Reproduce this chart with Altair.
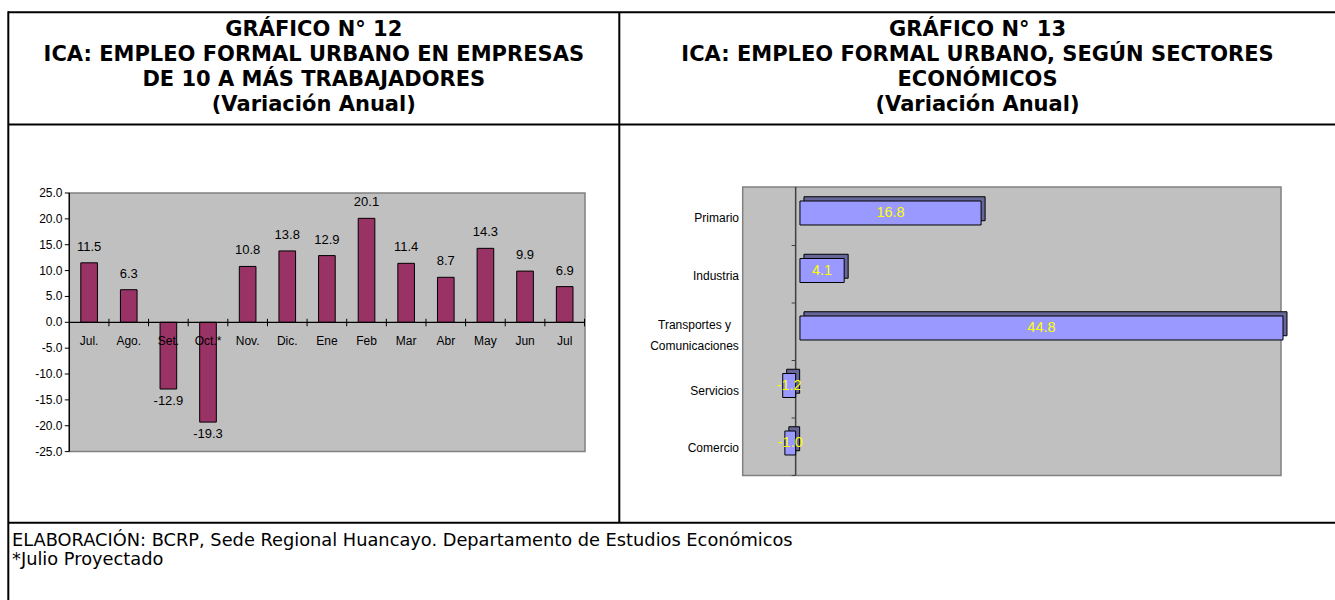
import altair as alt
import pandas as pd

# ---------------- data ----------------
months = ["Jul.", "Ago.", "Set.", "Oct.*", "Nov.", "Dic.", "Ene", "Feb", "Mar", "Abr", "May", "Jun", "Jul"]
variation = [11.5, 6.3, -12.9, -19.3, 10.8, 13.8, 12.9, 20.1, 11.4, 8.7, 14.3, 9.9, 6.9]
y_tick_values = [25, 20, 15, 10, 5, 0, -5, -10, -15, -20, -25]
y_tick_labels = ["25.0", "20.0", "15.0", "10.0", "5.0", "0.0", "-5.0", "-10.0", "-15.0", "-20.0", "-25.0"]

sectors = ["Primario", "Industria", "Transportes y\nComunicaciones", "Servicios", "Comercio"]
sector_values = [16.8, 4.1, 44.8, -1.2, -1.0]

title_left = ["GRÁFICO N° 12", "ICA: EMPLEO FORMAL URBANO EN EMPRESAS",
              "DE 10 A MÁS TRABAJADORES", "(Variación Anual)"]
title_right = ["GRÁFICO N° 13", "ICA: EMPLEO FORMAL URBANO, SEGÚN SECTORES",
               "ECONÓMICOS", "(Variación Anual)"]
footer_lines = ["ELABORACIÓN: BCRP, Sede Regional Huancayo. Departamento de Estudios Económicos",
                "*Julio Proyectado"]

CHART_FONT = "Liberation Sans, Arial"
TITLE_FONT = "DejaVu Sans"

left_df = pd.DataFrame({"mes": months, "v": variation})
ytick_df = pd.DataFrame({"t": y_tick_values, "lab": y_tick_labels})
right_df = pd.DataFrame({"sector": sectors, "v": sector_values})
one = pd.DataFrame({"k": [0]})

LABEL_EXPR = "datum.v < 0 ? '-' + format(-datum.v, '.1f') : format(datum.v, '.1f')"

# ---------------- scales ----------------
xL = alt.Scale(type="band", domain=months, range=[69.3, 584.5], paddingInner=0, paddingOuter=0)
yL = alt.Scale(type="linear", domain=[-25, 25], range=[451.6, 193], nice=False, zero=False)
xR = alt.Scale(type="linear", domain=[-5.31, 44.8], range=[742.7, 1283], nice=False, zero=False)
yR = alt.Scale(type="band", domain=sectors, range=[188, 475.5], paddingInner=0, paddingOuter=0)

def XL(**kw):
    return alt.X("mes:N", scale=xL, axis=None, **kw)

def YR(**kw):
    return alt.Y("sector:N", scale=yR, axis=None, **kw)

layers = []

# ---------------- table frame ----------------
def hline(y, x0=8, x1=1336, w=2):
    return alt.Chart(one).mark_rule(color="black", strokeWidth=w).encode(
        x=alt.value(x0), x2=alt.value(x1), y=alt.value(y))

def vline(x, y0, y1, w=2):
    return alt.Chart(one).mark_rule(color="black", strokeWidth=w).encode(
        x=alt.value(x), y=alt.value(y0), y2=alt.value(y1))

layers += [hline(12.3), hline(124.6), hline(522.7), vline(8.3, 11.3, 600), vline(619.3, 12.3, 522.7)]

# ---------------- titles ----------------
for lines, cx in [(title_left, 313.8), (title_right, 977.5)]:
    layers.append(alt.Chart(one).mark_text(
        text=lines, font=TITLE_FONT, fontSize=21, fontWeight="bold", lineHeight=25,
        align="center", baseline="alphabetic", color="black").encode(
        x=alt.value(cx), y=alt.value(35.5)))

layers.append(alt.Chart(one).mark_text(
    text=footer_lines, font=TITLE_FONT, fontSize=17.8, lineHeight=19,
    align="left", baseline="alphabetic", color="black").encode(
    x=alt.value(12), y=alt.value(546)))

# ---------------- left chart ----------------
layers.append(alt.Chart(one).mark_rect(fill="#C0C0C0", stroke="#808080", strokeWidth=1.5).encode(
    x=alt.value(69.3), x2=alt.value(585), y=alt.value(193), y2=alt.value(451.6)))

layers.append(alt.Chart(left_df).mark_bar(
    color="#993366", stroke="black", strokeWidth=1, width=alt.RelativeBandSize(0.42)).encode(
    x=XL(), y=alt.Y("v:Q", scale=yL, axis=None), y2=alt.datum(0)))

# zero line
layers.append(alt.Chart(one).mark_rule(color="black", strokeWidth=1.3).encode(
    y=alt.YDatum(0, scale=yL, axis=None), x=alt.value(69.3), x2=alt.value(585)))
# category ticks on zero line
layers.append(alt.Chart(left_df).mark_rule(color="black", strokeWidth=1, yOffset=-3.5, y2Offset=4).encode(
    x=XL(bandPosition=1), y=alt.YDatum(0, scale=yL, axis=None), y2=alt.datum(0)))
# y axis line, ticks, labels
layers.append(alt.Chart(one).mark_rule(color="black", strokeWidth=1.3).encode(
    x=alt.value(69.3), y=alt.value(193), y2=alt.value(451.6)))
layers.append(alt.Chart(ytick_df).mark_rule(color="black", strokeWidth=1).encode(
    y=alt.Y("t:Q", scale=yL, axis=None), x=alt.value(64.8), x2=alt.value(69.3)))
layers.append(alt.Chart(ytick_df).mark_text(
    align="right", baseline="middle", font=CHART_FONT, fontSize=12, color="black").encode(
    y=alt.Y("t:Q", scale=yL, axis=None), x=alt.value(62.5), text="lab:N"))

# value labels
layers.append(alt.Chart(left_df).transform_filter("datum.v >= 0").transform_calculate(
    lab=LABEL_EXPR).mark_text(baseline="middle", dy=-16, font=CHART_FONT, fontSize=13, color="black").encode(
    x=XL(bandPosition=0.5), y=alt.Y("v:Q", scale=yL, axis=None), text="lab:N"))
layers.append(alt.Chart(left_df).transform_filter("datum.v < 0").transform_calculate(
    lab=LABEL_EXPR).mark_text(baseline="middle", dy=12, font=CHART_FONT, fontSize=13, color="black").encode(
    x=XL(bandPosition=0.5), y=alt.Y("v:Q", scale=yL, axis=None), text="lab:N"))
# category labels
layers.append(alt.Chart(left_df).mark_text(
    baseline="middle", dy=18.5, font=CHART_FONT, fontSize=12, color="black").encode(
    x=XL(bandPosition=0.5), y=alt.YDatum(0, scale=yL, axis=None), text="mes:N"))

# ---------------- right chart ----------------
layers.append(alt.Chart(one).mark_rect(fill="#C0C0C0", stroke="#808080", strokeWidth=1.5).encode(
    x=alt.value(742.7), x2=alt.value(1281), y=alt.value(187), y2=alt.value(475.5)))

# category axis line at zero and ticks
layers.append(alt.Chart(one).mark_rule(color="#404040", strokeWidth=1.5, xOffset=-4.3).encode(
    x=alt.XDatum(0, scale=xR, axis=None), y=alt.value(187), y2=alt.value(475.5)))
layers.append(alt.Chart(right_df).mark_rule(color="#404040", strokeWidth=1, xOffset=-8.3, x2Offset=-4.3).encode(
    y=YR(bandPosition=1), x=alt.XDatum(0, scale=xR, axis=None), x2=alt.datum(0)))

BAR_H = alt.RelativeBandSize(0.417)
for cond, dx in [("datum.v >= 0", 0), ("datum.v < 0", -4.3)]:
    base = alt.Chart(right_df).transform_filter(cond)
    # depth (top + side faces)
    layers.append(base.mark_bar(
        fill="#666699", stroke="black", strokeWidth=1, height=BAR_H,
        xOffset=dx + 4, x2Offset=dx + 4, yOffset=-8, y2Offset=-8).encode(
        x=alt.X("v:Q", scale=xR, axis=None), x2=alt.datum(0), y=YR()))
    # front face
    layers.append(base.mark_bar(
        fill="#9999FF", stroke="black", strokeWidth=1, height=BAR_H,
        xOffset=dx, x2Offset=dx, yOffset=-3.75, y2Offset=-3.75).encode(
        x=alt.X("v:Q", scale=xR, axis=None), x2=alt.datum(0), y=YR()))
    # value label in yellow
    layers.append(base.transform_calculate(lab=LABEL_EXPR, mid="datum.v / 2").mark_text(
        baseline="middle", font=CHART_FONT, fontSize=14.5, color="#FFFF00",
        dx=dx, dy=-3.75).encode(
        x=alt.X("mid:Q", scale=xR, axis=None), y=YR(bandPosition=0.5), text="lab:N"))

# sector labels (single-line ones right aligned, the two-line one centred as a block)
layers.append(alt.Chart(right_df).transform_filter("indexof(datum.sector, '\\n') < 0").mark_text(
    align="right", baseline="middle", font=CHART_FONT, fontSize=12, dy=1.5, color="black").encode(
    x=alt.value(739), y=YR(bandPosition=0.5), text=alt.Text("sector:N")))
layers.append(alt.Chart(right_df).transform_filter("indexof(datum.sector, '\\n') >= 0").transform_calculate(
    lab="split(datum.sector, '\\n')").mark_text(
    align="center", baseline="middle", font=CHART_FONT, fontSize=12, lineHeight=21.5,
    dy=-7, color="black").encode(
    x=alt.value(694.5), y=YR(bandPosition=0.5), text=alt.Text("lab:N")))

chart = alt.layer(*layers).resolve_scale(x="independent", y="independent").properties(
    width=1335, height=600, padding=0, autosize="none", background="white"
).configure_view(stroke=None)

chart.save("out.html", embed_options={"renderer": "svg", "actions": False})
